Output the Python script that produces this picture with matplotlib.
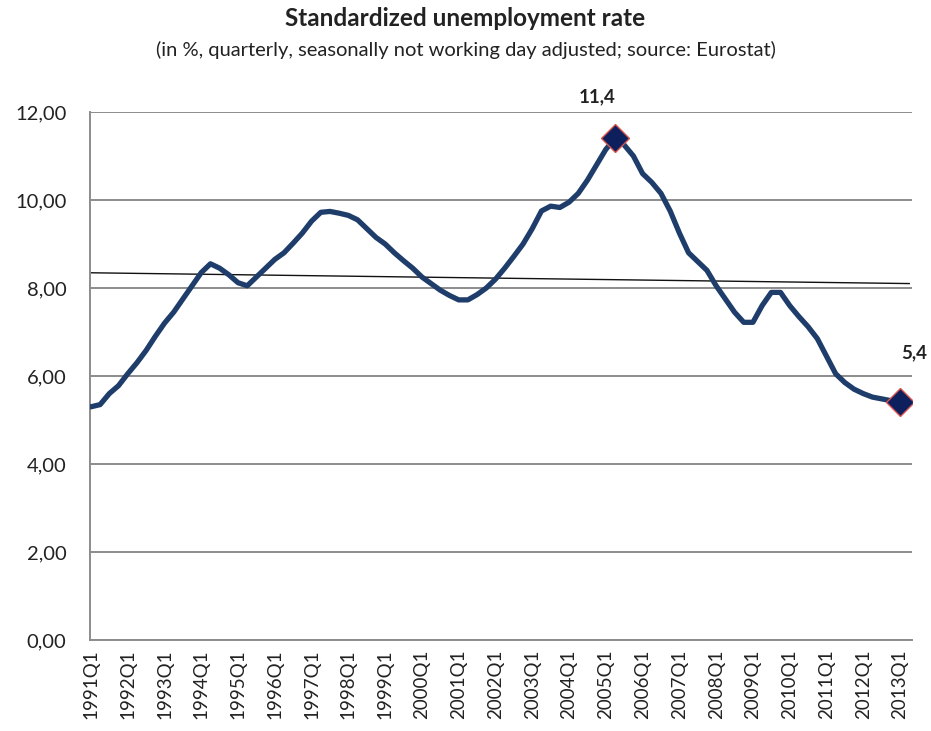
import numpy as np
import matplotlib
matplotlib.use("Agg")
import matplotlib.pyplot as plt

plt.rcParams['font.family'] = ['Lato', 'DejaVu Sans']

# quarterly rate, 1991Q1 .. 2013Q1
years = list(range(1991, 2014))
rate = [5.30, 5.35, 5.60, 5.78, 6.05, 6.30, 6.58, 6.90, 7.20, 7.45,
        7.75, 8.05, 8.35, 8.55, 8.45, 8.30, 8.12, 8.05, 8.25, 8.45,
        8.65, 8.80, 9.02, 9.25, 9.52, 9.72, 9.74, 9.70, 9.65, 9.55,
        9.35, 9.15, 9.00, 8.80, 8.62, 8.45, 8.25, 8.10, 7.95, 7.83,
        7.73, 7.73, 7.85, 8.00, 8.20, 8.45, 8.72, 9.00, 9.35, 9.75,
        9.86, 9.83, 9.95, 10.15, 10.45, 10.80, 11.15, 11.40, 11.25, 11.00,
        10.60, 10.40, 10.15, 9.75, 9.25, 8.80, 8.60, 8.40, 8.05, 7.75,
        7.45, 7.22, 7.22, 7.60, 7.90, 7.90, 7.60, 7.35, 7.12, 6.85,
        6.45, 6.05, 5.85, 5.70, 5.60, 5.52, 5.48, 5.44, 5.40]
highlight = [57, 88]  # peak and latest quarter

x = np.arange(len(rate))
tick_pos = [4 * i for i in range(len(years))]
tick_lab = [f"{y}Q1" for y in years]

fig = plt.figure(figsize=(9.31, 7.31), dpi=100)
ax = fig.add_axes([90 / 931, 1 - 640 / 731, 822 / 931, 528 / 731])

ax.set_ylim(0, 12)
ax.set_xlim(-0.1, 89.3)
ax.set_yticks(np.arange(0, 13, 2))
ax.set_yticklabels([f"{v:.2f}".replace('.', ',') for v in np.arange(0, 13, 2)])
ax.set_xticks(tick_pos)
ax.set_xticklabels(tick_lab, rotation=90)
ax.tick_params(axis='both', length=0, labelsize=13.5, colors='#222222')
ax.tick_params(axis='y', pad=17, labelsize=14.5)
ax.tick_params(axis='x', pad=7)

ax.grid(axis='y', color='#8c8c8c', lw=1.4)
ax.set_axisbelow(True)
for s in ['top', 'right']:
    ax.spines[s].set_visible(False)
for s in ['left', 'bottom']:
    ax.spines[s].set_color('#8c8c8c')
    ax.spines[s].set_linewidth(1.4)

# linear trend
k, b = np.polyfit(x, rate, 1)
ax.plot([0, x[-1] + 1], [b, b + k * (x[-1] + 1)], color='#111111', lw=1.0, zorder=2)

ax.plot(x, rate, color='#1f3d6b', lw=3.8, solid_joinstyle='round',
        solid_capstyle='round', zorder=3)
ax.plot(x[highlight], np.array(rate)[highlight], ls='none', marker='D',
        ms=14, mfc='#0d1f5c', mec='#d9534f', mew=1.0, zorder=4)

offsets = [(-18, 42), (14, 50)]
for i, off in zip(highlight, offsets):
    ax.annotate(f"{rate[i]:.1f}".replace('.', ','), (x[i], rate[i]),
                xytext=off, textcoords='offset pixels', ha='center',
                va='center', fontsize=13.5, fontweight='bold', color='#222222',
                annotation_clip=False)

fig.text(0.5, 1 - 18 / 731, "Standardized unemployment rate", ha='center',
         va='center', fontsize=17.5, fontweight='bold', color='#222222')
fig.text(0.5, 1 - 50 / 731,
         "(in %, quarterly, seasonally not working day adjusted; source: Eurostat)",
         ha='center', va='center', fontsize=14.5, color='#222222')

fig.savefig("out.png", dpi=100)
